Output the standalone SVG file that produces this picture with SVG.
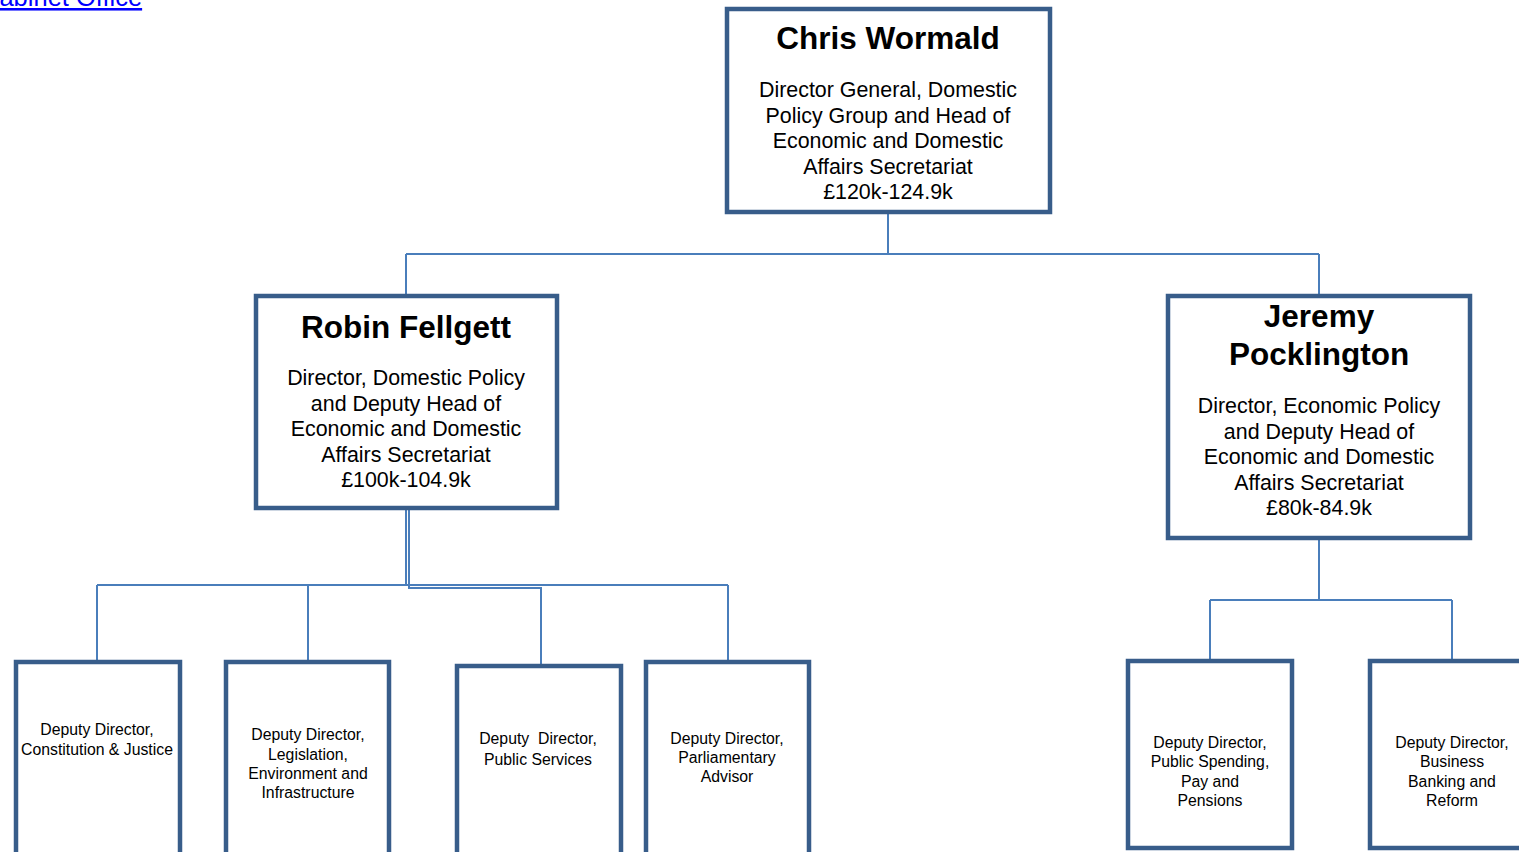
<svg xmlns="http://www.w3.org/2000/svg" width="1519" height="852" viewBox="0 0 1519 852">
  <style>
    .box { fill: #ffffff; stroke: #385d8a; stroke-width: 4.5; }
    .conn { fill: none; stroke: #4a7ebb; stroke-width: 2; }
    .name { font-family: "Liberation Sans", Arial, sans-serif; font-weight: bold; font-size: 31.5px; fill: #000; text-anchor: middle; }
    .role { font-family: "Liberation Sans", Arial, sans-serif; font-size: 21.4px; fill: #000; text-anchor: middle; }
    .dd { font-family: "Liberation Sans", Arial, sans-serif; font-size: 15.8px; fill: #000; text-anchor: middle; }
    .link { font-family: "Liberation Sans", Arial, sans-serif; font-size: 25.5px; fill: #0000ff; text-decoration: underline; }
  </style>

  <rect width="1519" height="852" fill="#ffffff"/>

  <text class="link" x="-19" y="6">Cabinet Office</text>

  <!-- reporting lines -->
  <g id="connectors">
    <path class="conn" d="M888,213 V254 M406,254 H1319 M406,254 V295 M1319,254 V295"/>
    <path class="conn" d="M406,509 V585 M97,585 H728 M97,585 V661 M308,585 V661 M728,585 V661"/>
    <path class="conn" d="M409,509 V588 H541 V665"/>
    <path class="conn" d="M1319,539 V600 M1210,600 H1452 M1210,600 V660 M1452,600 V660"/>
  </g>

  <g id="node-wormald">
    <rect class="box" x="727" y="9" width="323" height="203"/>
    <text class="name" x="888" y="49">Chris Wormald</text>
    <text class="role" x="888" y="97">Director General, Domestic</text>
    <text class="role" x="888" y="122.5">Policy Group and Head of</text>
    <text class="role" x="888" y="148">Economic and Domestic</text>
    <text class="role" x="888" y="173.5">Affairs Secretariat</text>
    <text class="role" x="888" y="199">£120k-124.9k</text>
  </g>

  <g id="node-fellgett">
    <rect class="box" x="256" y="296" width="301" height="212"/>
    <text class="name" x="406" y="338">Robin Fellgett</text>
    <text class="role" x="406" y="385">Director, Domestic Policy</text>
    <text class="role" x="406" y="410.5">and Deputy Head of</text>
    <text class="role" x="406" y="436">Economic and Domestic</text>
    <text class="role" x="406" y="461.5">Affairs Secretariat</text>
    <text class="role" x="406" y="487">£100k-104.9k</text>
  </g>

  <g id="node-pocklington">
    <rect class="box" x="1168" y="296" width="302" height="242"/>
    <text class="name" x="1319" y="327">Jeremy</text>
    <text class="name" x="1319" y="365">Pocklington</text>
    <text class="role" x="1319" y="413">Director, Economic Policy</text>
    <text class="role" x="1319" y="438.5">and Deputy Head of</text>
    <text class="role" x="1319" y="464">Economic and Domestic</text>
    <text class="role" x="1319" y="489.5">Affairs Secretariat</text>
    <text class="role" x="1319" y="515">£80k-84.9k</text>
  </g>

  <g id="node-dd-constitution">
    <rect class="box" x="16" y="662" width="164" height="200"/>
    <text class="dd" x="97" y="735">Deputy Director,</text>
    <text class="dd" x="97" y="755">Constitution &amp; Justice</text>
  </g>

  <g id="node-dd-legislation">
    <rect class="box" x="226" y="662" width="163" height="200"/>
    <text class="dd" x="308" y="740">Deputy Director,</text>
    <text class="dd" x="308" y="759.5">Legislation,</text>
    <text class="dd" x="308" y="779">Environment and</text>
    <text class="dd" x="308" y="798">Infrastructure</text>
  </g>

  <g id="node-dd-public-services">
    <rect class="box" x="457" y="666" width="164" height="200"/>
    <text class="dd" x="538" y="744" xml:space="preserve">Deputy  Director,</text>
    <text class="dd" x="538" y="765">Public Services</text>
  </g>

  <g id="node-dd-parliamentary">
    <rect class="box" x="646" y="662" width="163" height="200"/>
    <text class="dd" x="727" y="744">Deputy Director,</text>
    <text class="dd" x="727" y="763">Parliamentary</text>
    <text class="dd" x="727" y="782">Advisor</text>
  </g>

  <g id="node-dd-public-spending">
    <rect class="box" x="1128" y="661" width="164" height="187"/>
    <text class="dd" x="1210" y="748">Deputy Director,</text>
    <text class="dd" x="1210" y="767">Public Spending,</text>
    <text class="dd" x="1210" y="787">Pay and</text>
    <text class="dd" x="1210" y="806">Pensions</text>
  </g>

  <g id="node-dd-business">
    <rect class="box" x="1370" y="661" width="164" height="187"/>
    <text class="dd" x="1452" y="748">Deputy Director,</text>
    <text class="dd" x="1452" y="767">Business</text>
    <text class="dd" x="1452" y="787">Banking and</text>
    <text class="dd" x="1452" y="806">Reform</text>
  </g>
</svg>
